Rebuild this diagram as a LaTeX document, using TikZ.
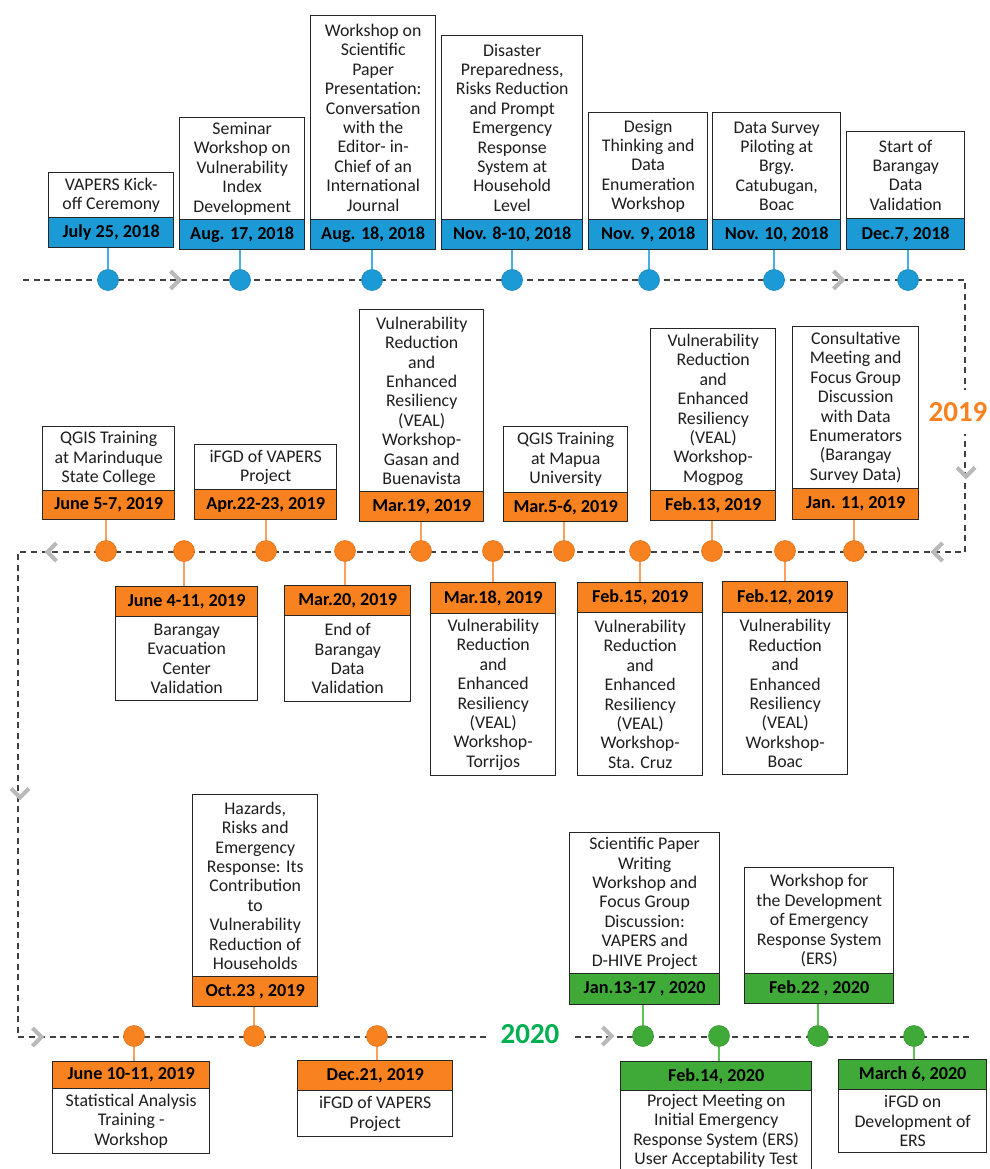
\documentclass[tikz,border=0pt]{standalone}
\usepackage{fontspec}
\setmainfont{Carlito}
\definecolor{blueC}{RGB}{27,154,214}
\definecolor{blueS}{RGB}{70,175,228}
\definecolor{orangeC}{RGB}{248,130,32}
\definecolor{orangeS}{RGB}{250,160,95}
\definecolor{greenC}{RGB}{64,170,56}
\definecolor{greenS}{RGB}{95,195,85}
\definecolor{yrgreen}{RGB}{0,176,80}
\definecolor{boxline}{RGB}{38,38,38}
\definecolor{txtC}{RGB}{30,30,30}
\definecolor{chevC}{RGB}{185,185,185}
\definecolor{dashC}{RGB}{64,64,64}
\tikzset{
  txtbox/.style={draw=boxline, line width=1.4pt, fill=white, align=center, inner sep=1pt,
    font=\fontsize{17.8}{19.4}\selectfont, text=txtC, anchor=north west},
  datebox/.style={draw=boxline, line width=1.4pt, align=center, inner sep=1pt,
    font=\fontsize{18.2}{19.4}\selectfont\bfseries, text=black, anchor=north west},
  evdot/.style={circle, inner sep=0pt, minimum size=21pt, draw=#1!88!black, fill=#1, line width=0.6pt},
  stemline/.style={line width=2pt, draw=#1},
  dashline/.style={draw=dashC, line width=1.8pt, dash pattern=on 6pt off 4.5pt},
  yearlabel/.style={fill=white, font=\fontsize{29}{32}\selectfont\bfseries, inner sep=0pt},
  chevR/.pic={\draw[chevC, line width=4pt, line join=miter] (-4.5,-9) -- (4.5,0) -- (-4.5,9);},
  chevL/.pic={\draw[chevC, line width=4pt, line join=miter] (4.5,-9) -- (-4.5,0) -- (4.5,9);},
  chevD/.pic={\draw[chevC, line width=4pt, line join=miter] (-9,-4.5) -- (0,4.5) -- (9,-4.5);},
}
% #1 name #2 x1 #3 x2 #4 top #5 split #6 bottom #7 colour #8 text #9 date
\newcommand{\EvTop}[9]{%
  \node[txtbox, minimum width={(#3-#2)*1pt}, minimum height={(#5-#4)*1pt}] (#1t) at (#2,#4) {#8};
  \node[datebox, fill=#7, minimum width={(#3-#2)*1pt}, minimum height={(#6-#5)*1pt}] (#1d) at (#2,#5) {#9};}
\newcommand{\EvBot}[9]{%
  \node[txtbox, minimum width={(#3-#2)*1pt}, minimum height={(#6-#5)*1pt}] (#1t) at (#2,#5) {#8};
  \node[datebox, fill=#7, minimum width={(#3-#2)*1pt}, minimum height={(#5-#4)*1pt}] (#1d) at (#2,#4) {#9};}
\begin{document}
\begin{tikzpicture}[x=1pt,y=-1pt]
\clip (0,0) rectangle (989,1169);
\fill[white] (0,0) rectangle (989,1169);

% timeline path
\coordinate (c0) at (23,280);
\coordinate (c1) at (965,280);
\coordinate (c2) at (965,552);
\coordinate (c3) at (18,552);
\coordinate (c4) at (18,1037);
\coordinate (c5) at (972,1037);
\draw[dashline] (c0) -- (c1) -- (c2) -- (c3) -- (c4) -- (c5);

% chevrons
\pic at (175,280) {chevR};
\pic at (838,280) {chevR};
\pic at (966,472) {chevD};
\pic at (938,552) {chevL};
\pic at (52,552) {chevL};
\pic at (20,793) {chevD};
\pic at (37,1037) {chevR};
\pic at (607,1036) {chevR};

% year labels
\node[yearlabel, text=orangeC, minimum width=64pt, minimum height=44pt] (y19) at (958,412) {2019};
\node[yearlabel, text=yrgreen, minimum width=85pt, minimum height=42pt] (y20) at (530,1034) {2020};

% ---------- 2018 (blue) ----------
\EvTop{a}{48}{173}{172}{217}{247}{blueC}{VAPERS Kick-\\off Ceremony}{July 25, 2018}
\EvTop{b}{179}{304}{117}{219}{249}{blueC}{Seminar\\Workshop on\\Vulnerability\\Index\\Development}{Aug. 17, 2018}
\EvTop{c}{310}{435}{15}{219}{249}{blueC}{Workshop on\\Scientific\\Paper\\Presentation:\\Conversation\\with the\\Editor- in-\\Chief of an\\International\\Journal}{Aug. 18, 2018}
\EvTop{d}{441}{582}{35}{219}{249}{blueC}{Disaster\\Preparedness,\\Risks Reduction\\and Prompt\\Emergency\\Response\\System at\\Household\\Level}{Nov. 8-10, 2018}
\EvTop{e}{588}{707}{112}{219}{249}{blueC}{Design\\Thinking and\\Data\\Enumeration\\Workshop}{Nov. 9, 2018}
\EvTop{f}{712}{840}{112}{219}{249}{blueC}{Data Survey\\Piloting at\\Brgy.\\Catubugan,\\Boac}{Nov. 10, 2018}
\EvTop{g}{846}{964}{131}{218}{249}{blueC}{Start of\\Barangay\\Data\\Validation}{Dec.7, 2018}

\foreach \n/\x in {a/108,b/240,c/372,d/512,e/649,f/774,g/908}{
  \node[evdot=blueC] (\n p) at (\x,280) {};
}
\foreach \n in {a,b,c,d,e,f,g}{
  \draw[stemline=blueS] (\n d.south -| \n p) -- (\n p.north);
}

% ---------- 2019 (orange), row 2 ----------
\EvTop{h}{42}{174}{426}{490}{519}{orangeC}{QGIS Training\\at Marinduque\\State College}{June 5-7, 2019}
\EvTop{i}{194}{336}{444}{489}{519}{orangeC}{iFGD of VAPERS\\Project}{Apr.22-23, 2019}
\EvTop{j}{359}{483}{309}{491}{521}{orangeC}{Vulnerability\\Reduction\\and\\Enhanced\\Resiliency\\(VEAL)\\Workshop-\\Gasan and\\Buenavista}{Mar.19, 2019}
\EvTop{k}{503}{627}{426}{492}{521}{orangeC}{QGIS Training\\at Mapua\\University}{Mar.5-6, 2019}
\EvTop{l}{650}{775}{328}{490}{520}{orangeC}{Vulnerability\\Reduction\\and\\Enhanced\\Resiliency\\(VEAL)\\Workshop-\\Mogpog}{Feb.13, 2019}
\EvTop{m}{792}{918}{326}{488}{519}{orangeC}{Consultative\\Meeting and\\Focus Group\\Discussion\\with Data\\Enumerators\\(Barangay\\Survey Data)}{Jan. 11, 2019}

\EvBot{q}{115}{257}{586}{616}{700}{orangeC}{Barangay\\Evacuation\\Center\\Validation}{June 4-11, 2019}
\EvBot{r}{284}{410}{585}{615}{701}{orangeC}{End of\\Barangay\\Data\\Validation}{Mar.20, 2019}
\EvBot{s}{430}{555}{582}{613}{775}{orangeC}{Vulnerability\\Reduction\\and\\Enhanced\\Resiliency\\(VEAL)\\Workshop-\\Torrijos}{Mar.18, 2019}
\EvBot{u}{577}{702}{582}{612}{775}{orangeC}{Vulnerability\\Reduction\\and\\Enhanced\\Resiliency\\(VEAL)\\Workshop-\\Sta. Cruz}{Feb.15, 2019}
\EvBot{v}{722}{847}{581}{612}{774}{orangeC}{Vulnerability\\Reduction\\and\\Enhanced\\Resiliency\\(VEAL)\\Workshop-\\Boac}{Feb.12, 2019}

\foreach \n/\x in {h/106,i/266,j/421,k/564,l/712,m/854,q/184,r/345,s/493,u/640,v/785}{
  \node[evdot=orangeC] (\n p) at (\x,551) {};
}
\foreach \n in {h,i,j,k,l,m}{
  \draw[stemline=orangeS] (\n d.south -| \n p) -- (\n p.north);
}
\foreach \n in {q,r,s,u,v}{
  \draw[stemline=orangeS] (\n p.south) -- (\n d.north -| \n p);
}

% ---------- row 3 ----------
\EvTop{w}{192}{317}{794}{976}{1006}{orangeC}{Hazards,\\Risks and\\Emergency\\Response: Its\\Contribution\\to\\Vulnerability\\Reduction of\\Households}{Oct.23 , 2019}
\EvBot{x}{52}{209}{1061}{1088}{1153}{orangeC}{Statistical Analysis\\Training -\\Workshop}{June 10-11, 2019}
\EvBot{z}{297}{452}{1060}{1090}{1136}{orangeC}{iFGD of VAPERS\\Project}{Dec.21, 2019}

\EvTop{A}{569}{719}{832}{973}{1004}{greenC}{Scientific Paper\\Writing\\Workshop and\\Focus Group\\Discussion:\\VAPERS and\\D-HIVE Project}{Jan.13-17 , 2020}
\EvTop{B}{744}{893}{867}{973}{1003}{greenC}{Workshop for\\the Development\\of Emergency\\Response System\\(ERS)}{Feb.22 , 2020}
\EvBot{C}{620}{811}{1061}{1090}{1187}{greenC}{Project Meeting on\\Initial Emergency\\Response System (ERS)\\User Acceptability Test\\\mbox{}}{Feb.14, 2020}
\EvBot{D}{838}{986}{1059}{1089}{1152}{greenC}{iFGD on\\Development of\\ERS}{March 6, 2020}

\foreach \n/\x in {x/134,w/254,z/377}{
  \node[evdot=orangeC] (\n p) at (\x,1036) {};
}
\foreach \n/\x in {A/643,C/719,B/818,D/914}{
  \node[evdot=greenC] (\n p) at (\x,1036) {};
}
\draw[stemline=orangeS] (wd.south -| wp) -- (wp.north);
\draw[stemline=orangeS] (xp.south) -- (xd.north -| xp);
\draw[stemline=orangeS] (zp.south) -- (zd.north -| zp);
\draw[stemline=greenS] (Ad.south -| Ap) -- (Ap.north);
\draw[stemline=greenS] (Bd.south -| Bp) -- (Bp.north);
\draw[stemline=greenS] (Cp.south) -- (Cd.north -| Cp);
\draw[stemline=greenS] (Dp.south) -- (Dd.north -| Dp);
\end{tikzpicture}
\end{document}
